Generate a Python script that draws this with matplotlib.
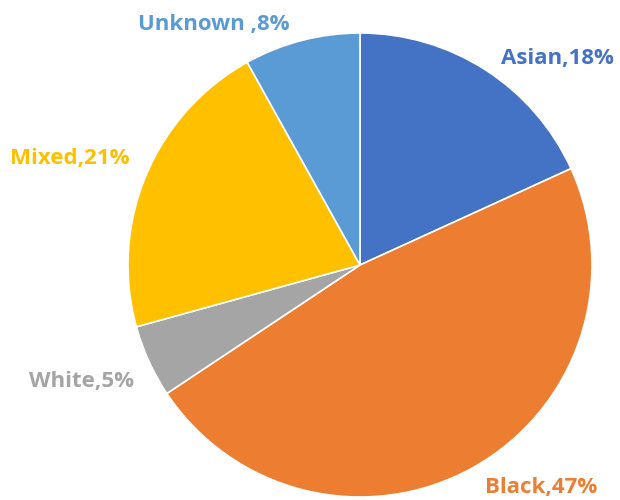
import matplotlib
matplotlib.use("Agg")
import matplotlib.pyplot as plt

categories = ["Asian", "Black", "White", "Mixed", "Unknown"]
shares = [18, 47, 5, 21, 8]
label_texts = ["Asian,18%", "Black,47%", "White,5%", "Mixed,21%", "Unknown ,8%"]
colors = ["#4472C4", "#ED7D31", "#A5A5A5", "#FFC000", "#5B9BD5"]
# label centres in pie-radius units
label_pos = [(0.85, 0.89), (0.78, -0.96), (-1.20, -0.50), (-1.25, 0.46), (-0.63, 1.035)]

W, H = 620, 500
cx, cy, r = 360, 265, 232
fig = plt.figure(figsize=(W / 100, H / 100), dpi=100)
ax = fig.add_axes([(cx - r) / W, (H - cy - r) / H, 2 * r / W, 2 * r / H])
ax.pie(shares, colors=colors, startangle=90, counterclock=False, radius=1,
       wedgeprops=dict(edgecolor="white", linewidth=1.2))
ax.set_xlim(-1, 1)
ax.set_ylim(-1, 1)
ax.set_aspect("equal")
ax.axis("off")

for txt, (x, y), c in zip(label_texts, label_pos, colors):
    ax.text(x, y, txt, ha="center", va="center", color=c, fontsize=16,
            fontweight="bold", family=["Open Sans", "DejaVu Sans"], clip_on=False)

fig.savefig("out.png", dpi=100, facecolor="white")
